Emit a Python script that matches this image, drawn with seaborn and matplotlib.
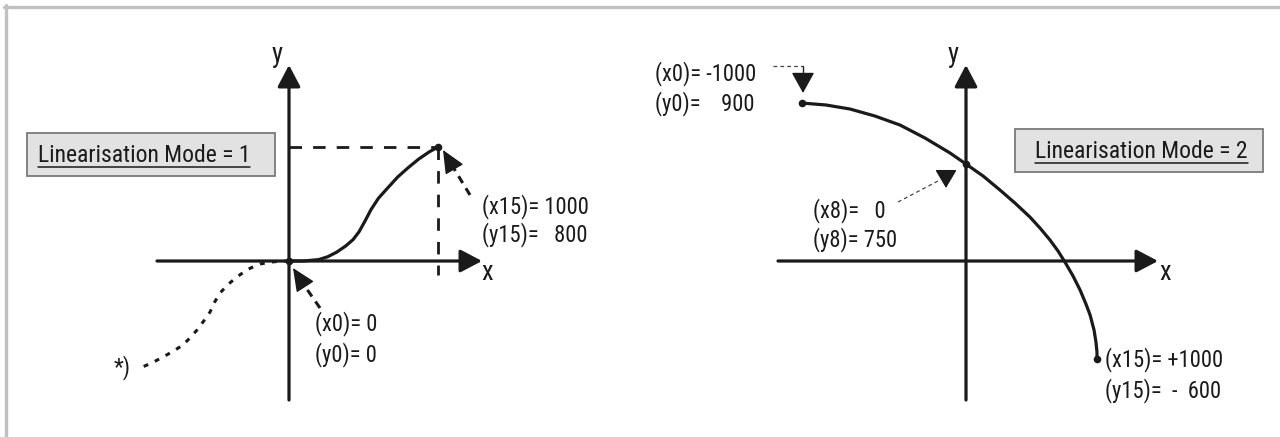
import numpy as np
import pandas as pd
import matplotlib.pyplot as plt
import seaborn as sns
from matplotlib import font_manager
from matplotlib.patches import Rectangle
from matplotlib.lines import Line2D

# Mode 1 curve (same units as the labels)
mode1_x = [0, 100, 200, 260, 320, 380, 430, 470, 510, 550, 600, 660, 730, 800, 870, 940, 1000]
mode1_y = [0, 0, 10, 30, 62, 105, 150, 205, 280, 360, 440, 510, 590, 655, 715, 765, 800]
# dotted continuation "*)" left of the origin
ext_x = [0, -100, -195, -280, -349, -410, -463, -500, -530, -575, -617, -665, -711, -780, -846, -920, -1000]
ext_y = [0, -5, -21, -60, -112, -165, -225, -290, -358, -425, -484, -540, -589, -635, -674, -715, -751]
mode1_nodes_x = [0, 1000]
mode1_nodes_y = [0, 800]

# Mode 2 curve (the sketch is not to scale)
mode2_x = [-1116, -952, -789, -619, -449, -279, -109, 0, 116, 231, 333, 435, 503, 571, 626, 673,
           728, 776, 816, 844, 871, 884, 891, 891]
mode2_y = [1215, 1200, 1169, 1115, 1046, 946, 831, 746, 654, 546, 446, 338, 254, 162, 77, -8,
           -115, -223, -331, -415, -531, -623, -700, -754]
mode2_nodes_x = [-1116, 0, 891]
mode2_nodes_y = [1215, 746, -754]

mode1_labels = ["(x15)= 1000", "(y15)=   800", "(x0)= 0", "(y0)= 0", "*)"]
mode2_labels = ["(x0)= -1000", "(y0)=    900", "(x8)=   0", "(y8)= 750", "(x15)= +1000", "(y15)=  -  600"]
titles = ["Linearisation Mode = 1", "Linearisation Mode = 2"]

W, H = 1280, 437
O1, S1 = (289, 261), (0.149, 0.1425)
O2, S2 = (966, 261), (0.147, 0.13)


def p1(px, py):
    return (px - O1[0]) / S1[0], (O1[1] - py) / S1[1]


def p2(px, py):
    return (px - O2[0]) / S2[0], (O2[1] - py) / S2[1]


sns.set_theme(style="white")

# the original uses a condensed sans; take one if it is installed
entries = font_manager.fontManager.ttflist
names = {f.name for f in entries}
narrow = next((n for n in ['Liberation Sans Narrow', 'Roboto Condensed', 'Open Sans Condensed',
                           'Noto Sans Condensed', 'DejaVu Sans Condensed'] if n in names), None)
if narrow:
    plt.rcParams['font.family'] = [narrow, 'DejaVu Sans']
else:
    cond = [f.name for f in entries if 'condensed' in str(f.stretch) and f.style == 'normal'
            and str(f.weight) in ('400', 'normal', 'regular')]
    pref = [n for n in ['DejaVu Sans', 'Noto Sans', 'Roboto', 'Open Sans', 'Liberation Sans'] if n in cond]
    if pref:
        plt.rcParams['font.family'] = [pref[0], 'DejaVu Sans']
        plt.rcParams['font.stretch'] = 'condensed'
    else:
        plt.rcParams['font.family'] = ['DejaVu Sans']
txt = '#1a1a1a'

fig = plt.figure(figsize=(12.8, 4.37), dpi=100)
r = fig.canvas.get_renderer()


def width_at10(s):
    t = fig.text(0, 0, s, fontsize=10)
    w = t.get_window_extent(r).width
    t.remove()
    return w


fs_box = min(17.5, 10 * 212 / width_at10(titles[0]))
fs = min(17, 10 * 106 / width_at10(mode1_labels[0]))
fs_ax = fs * 20 / 17

ax1 = fig.add_axes([0, 0, 0.5, 1])
ax2 = fig.add_axes([0.5, 0, 0.5, 1])
ax1.set_xlim(p1(0, 0)[0], p1(640, 0)[0])
ax1.set_ylim(p1(0, 437)[1], p1(0, 0)[1])
ax2.set_xlim(p2(640, 0)[0], p2(1280, 0)[0])
ax2.set_ylim(p2(0, 437)[1], p2(0, 0)[1])
for ax in (ax1, ax2):
    ax.axis('off')


def head(ax, a, b, length, width, lw=1.0):
    ax.annotate('', xy=b, xytext=a,
                arrowprops=dict(arrowstyle=f'-|>,head_length={length},head_width={width}',
                                mutation_scale=10, lw=lw, color='k', shrinkA=0, shrinkB=0))


def axis_arrow(ax, a, b):
    ax.annotate('', xy=b, xytext=a,
                arrowprops=dict(arrowstyle='-|>,head_length=0.95,head_width=0.5', mutation_scale=14,
                                lw=2.3, color='k', shrinkA=0, shrinkB=0))


# axes with arrows
axis_arrow(ax1, p1(157, 261), p1(482, 261))
axis_arrow(ax1, p1(289, 400), p1(289, 65))
axis_arrow(ax2, p2(778, 261), p2(1158, 261))
axis_arrow(ax2, p2(966, 400), p2(966, 65))
ax1.text(*p1(277, 54), "y", fontsize=fs_ax, ha='center', va='center', color=txt)
ax1.text(*p1(487, 273), "x", fontsize=fs_ax, ha='center', va='center', color=txt)
ax2.text(*p2(953, 54), "y", fontsize=fs_ax, ha='center', va='center', color=txt)
ax2.text(*p2(1165, 273), "x", fontsize=fs_ax, ha='center', va='center', color=txt)

# --- mode 1 ---
ax1.plot([0, mode1_nodes_x[1]], [mode1_nodes_y[1]] * 2, color='k', lw=2, linestyle=(0, (4.5, 4)))
ax1.plot([mode1_nodes_x[1]] * 2, [mode1_nodes_y[1], p1(0, 275)[1]], color='k', lw=2, linestyle=(0, (4.5, 4)))
sns.lineplot(x=mode1_x, y=mode1_y, ax=ax1, color='k', lw=2.3, sort=False, estimator=None)
sns.lineplot(x=ext_x, y=ext_y, ax=ax1, color='k', lw=2.2, sort=False, estimator=None,
             linestyle=(0, (1.6, 2.4)))
sns.scatterplot(x=mode1_nodes_x, y=mode1_nodes_y, ax=ax1, color='k', s=30, linewidth=0, zorder=5)

# dashed pointer arrows with solid heads
for tail, base, tip in (((470, 195), (453, 167), (443, 150)), ((320, 308), (304, 285), (293, 268))):
    ax1.plot(*zip(p1(*tail), p1(*base)), color='k', lw=2.2, linestyle=(0, (2.6, 2)))
    head(ax1, p1(*base), p1(*tip), 1.45, 0.65)

ax1.text(*p1(482, 207), mode1_labels[0], fontsize=fs, va='center', color=txt)
ax1.text(*p1(482, 235), mode1_labels[1], fontsize=fs, va='center', color=txt)
ax1.text(*p1(315, 324), mode1_labels[2], fontsize=fs, va='center', color=txt)
ax1.text(*p1(315, 355), mode1_labels[3], fontsize=fs, va='center', color=txt)
ax1.text(*p1(114, 368), mode1_labels[4], fontsize=fs, va='center', color=txt)

ax1.add_patch(Rectangle(p1(27, 176), 248 / S1[0], 43 / S1[1], fc='#e2e2e2', ec='#7a7a7a', lw=1.3))
t1 = ax1.text(*p1(38, 155), titles[0], fontsize=fs_box, va='center', color=txt)

# --- mode 2 ---
sns.lineplot(x=mode2_x, y=mode2_y, ax=ax2, color='k', lw=2.3, sort=False, estimator=None)
sns.scatterplot(x=mode2_nodes_x, y=mode2_nodes_y, ax=ax2, color='k', s=30, linewidth=0, zorder=5)

lead = dict(color='#444444', lw=0.9, linestyle=(0, (3, 2.5)))
ax2.plot(*zip(p2(773, 66), p2(803, 66)), **lead)
ax2.plot(*zip(p2(803, 66), p2(803, 75)), color='#222222', lw=1)
head(ax2, p2(803, 75), p2(803, 93), 1.3, 0.72)
ax2.plot(*zip(p2(898, 202), p2(938, 181)), **lead)
head(ax2, p2(946, 172), p2(946, 188), 1.15, 0.68)

ax2.text(*p2(655, 74), mode2_labels[0], fontsize=fs, va='center', color=txt)
ax2.text(*p2(655, 104), mode2_labels[1], fontsize=fs, va='center', color=txt)
ax2.text(*p2(813, 211), mode2_labels[2], fontsize=fs, va='center', color=txt)
ax2.text(*p2(813, 240), mode2_labels[3], fontsize=fs, va='center', color=txt)
ax2.text(*p2(1105, 360), mode2_labels[4], fontsize=fs, va='center', color=txt)
ax2.text(*p2(1105, 391), mode2_labels[5], fontsize=fs, va='center', color=txt)

ax2.add_patch(Rectangle(p2(1015, 172), 248 / S2[0], 43 / S2[1], fc='#e2e2e2', ec='#7a7a7a', lw=1.3))
t2 = ax2.text(*p2(1035, 151), titles[1], fontsize=fs_box, va='center', color=txt)

# underline the box titles
fig.canvas.draw()
for t, uy in ((t1, 167), (t2, 163)):
    bb = t.get_window_extent(r)
    fig.add_artist(Line2D([bb.x0 / W, bb.x1 / W], [(H - uy) / H] * 2, transform=fig.transFigure,
                          color=txt, lw=1.1))

# grey frame (top and left)
fig.add_artist(Line2D([4 / W, 1], [1 - 6.5 / H] * 2, transform=fig.transFigure, color='#c0c0c0', lw=2.4))
fig.add_artist(Line2D([5.5 / W] * 2, [0, 1 - 5 / H], transform=fig.transFigure, color='#c0c0c0', lw=2.4))

fig.savefig("out.png", dpi=100)
